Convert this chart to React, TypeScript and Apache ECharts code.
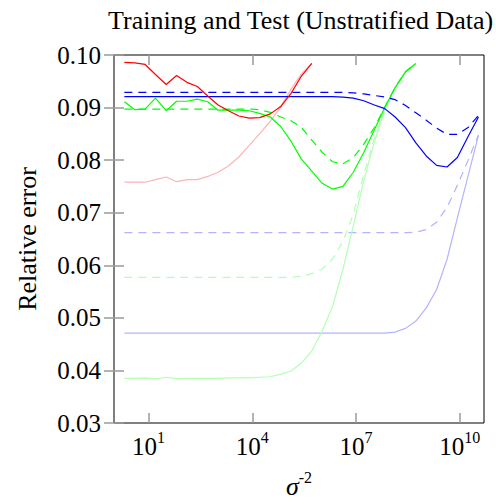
import React, { useEffect, useRef } from 'react';
import * as echarts from 'echarts';

// x positions: log10 of sigma^-2 (sigma^-2 = 2, 4, 8, ... 2^35)
const log10SigmaInvSq = [
  0.30, 0.60, 0.90, 1.20, 1.51, 1.81, 2.11, 2.41, 2.71, 3.01,
  3.31, 3.61, 3.91, 4.21, 4.52, 4.82, 5.12, 5.42, 5.72, 6.02,
  6.32, 6.62, 6.92, 7.22, 7.53, 7.83, 8.13, 8.43, 8.73, 9.03,
  9.33, 9.63, 9.93, 10.24, 10.54,
];

const xTickExponents = [1, 4, 7, 10];
const yTickStep = 0.01;

// bright red, solid
const redSolid = [
  0.0986, 0.0985, 0.0982, 0.0963, 0.0944, 0.0961, 0.0948, 0.0940, 0.0922, 0.0905,
  0.0894, 0.0884, 0.0880, 0.0881, 0.0888, 0.0902, 0.0927, 0.0960, 0.0984,
];
// light red, solid
const redLight = [
  0.0758, 0.0758, 0.0758, 0.0763, 0.0768, 0.0759, 0.0763, 0.0763, 0.0769, 0.0777,
  0.0789, 0.0806, 0.0828, 0.0850, 0.0874, 0.0901, 0.0935, 0.0964, 0.0984,
];
// bright blue, solid
const blueSolid = [
  0.0921, 0.0921, 0.0921, 0.0921, 0.0921, 0.0921, 0.0921, 0.0921, 0.0921, 0.0921,
  0.0921, 0.0921, 0.0921, 0.0921, 0.0921, 0.0921, 0.0921, 0.0921, 0.0921, 0.0921,
  0.0921, 0.0920, 0.0918, 0.0913, 0.0905, 0.0898, 0.0882, 0.0862, 0.0833, 0.0808,
  0.0790, 0.0787, 0.0805, 0.0845, 0.0882,
];
// bright blue, dashed
const blueDashed = [
  0.0929, 0.0929, 0.0929, 0.0929, 0.0929, 0.0929, 0.0929, 0.0929, 0.0929, 0.0929,
  0.0929, 0.0929, 0.0929, 0.0929, 0.0929, 0.0929, 0.0929, 0.0929, 0.0929, 0.0929,
  0.0929, 0.0929, 0.0928, 0.0926, 0.0923, 0.0920, 0.0915, 0.0904, 0.0890, 0.0876,
  0.0861, 0.0849, 0.0849, 0.0862, 0.0885,
];
// bright green, solid
const greenSolid = [
  0.0911, 0.0896, 0.0897, 0.0918, 0.0894, 0.0912, 0.0912, 0.0916, 0.0911, 0.0895,
  0.0895, 0.0895, 0.0894, 0.0889, 0.0882, 0.0864, 0.0836, 0.0802, 0.0779, 0.0756,
  0.0745, 0.0750, 0.0777, 0.0814, 0.0858, 0.0900, 0.0938, 0.0968, 0.0984,
];
// bright green, dashed
const greenDashed = [
  0.0897, 0.0897, 0.0897, 0.0897, 0.0897, 0.0897, 0.0897, 0.0897, 0.0897, 0.0897,
  0.0897, 0.0897, 0.0897, 0.0896, 0.0891, 0.0882, 0.0875, 0.0862, 0.0838, 0.0815,
  0.0797, 0.0793, 0.0805, 0.0830, 0.0862, 0.0901, 0.0938, 0.0968, 0.0984,
];
// light green, dashed
const greenLightDashed = [
  0.0577, 0.0577, 0.0577, 0.0577, 0.0577, 0.0577, 0.0577, 0.0577, 0.0577, 0.0577,
  0.0577, 0.0577, 0.0577, 0.0577, 0.0577, 0.0577, 0.0577, 0.0579, 0.0584, 0.0593,
  0.0612, 0.0645, 0.0697, 0.0772, 0.0842, 0.0897, 0.0938, 0.0968, 0.0984,
];
// light green, solid
const greenLightSolid = [
  0.0385, 0.0385, 0.0386, 0.0384, 0.0387, 0.0384, 0.0385, 0.0385, 0.0385, 0.0385,
  0.0386, 0.0386, 0.0386, 0.0387, 0.0388, 0.0393, 0.0399, 0.0414, 0.0437, 0.0475,
  0.0522, 0.0592, 0.0675, 0.0760, 0.0835, 0.0895, 0.0938, 0.0968, 0.0984,
];
// light blue, dashed
const blueLightDashed = [
  0.0662, 0.0662, 0.0662, 0.0662, 0.0662, 0.0662, 0.0662, 0.0662, 0.0662, 0.0662,
  0.0662, 0.0662, 0.0662, 0.0662, 0.0662, 0.0662, 0.0662, 0.0662, 0.0662, 0.0662,
  0.0662, 0.0662, 0.0662, 0.0662, 0.0662, 0.0662, 0.0662, 0.0662, 0.0663, 0.0668,
  0.0682, 0.0710, 0.0752, 0.0800, 0.0848,
];
// light blue, solid
const blueLightSolid = [
  0.0471, 0.0471, 0.0471, 0.0471, 0.0471, 0.0471, 0.0471, 0.0471, 0.0471, 0.0471,
  0.0471, 0.0471, 0.0471, 0.0471, 0.0471, 0.0471, 0.0471, 0.0471, 0.0471, 0.0471,
  0.0471, 0.0471, 0.0471, 0.0471, 0.0471, 0.0471, 0.0473, 0.0480, 0.0494, 0.0519,
  0.0554, 0.0611, 0.0690, 0.0770, 0.0847,
];

const FONT = '"Liberation Serif", "Times New Roman", serif';
const DASH = [8, 6];

function pairs(values: number[]) {
  return values.map((v, i) => [log10SigmaInvSq[i], v]);
}

function lineSeries(name: string, values: number[], color: string, dashed: boolean) {
  return {
    name,
    type: 'line',
    data: pairs(values),
    showSymbol: false,
    symbol: 'none',
    lineStyle: { color, width: 1.2, type: dashed ? DASH : 'solid' },
    emphasis: { disabled: true },
  };
}

export default function App() {
  const ref = useRef<HTMLDivElement>(null);
  useEffect(() => {
    document.body.style.margin = '0';
    if (!ref.current) return;
    const chart = echarts.init(ref.current, null, { renderer: 'svg' });
    const tickStyle = { color: '#9a9a9a', width: 1.5 };
    const xRich = {
      b: { fontFamily: FONT, fontSize: 25, color: '#000', lineHeight: 30, verticalAlign: 'bottom' },
      s: { fontFamily: FONT, fontSize: 16, color: '#000', lineHeight: 16, verticalAlign: 'top' },
    };
    const option = {
      animation: false,
      title: {
        text: 'Training and Test (Unstratified Data)',
        left: 103,
        top: 2,
        textStyle: { fontFamily: FONT, fontSize: 26, fontWeight: 'normal', color: '#000' },
      },
      grid: {
        left: 114,
        right: 12,
        top: 55,
        bottom: 79,
        show: true,
        borderColor: '#000',
        borderWidth: 1,
        backgroundColor: 'transparent',
        containLabel: false,
      },
      xAxis: [
        {
          type: 'value',
          min: 0,
          max: 10.7,
          position: 'bottom',
          axisLine: { show: false },
          splitLine: { show: false },
          axisTick: { inside: true, length: 10, lineStyle: tickStyle, customValues: xTickExponents },
          axisLabel: {
            customValues: xTickExponents,
            formatter: (v: number) => `{b|10}{s|${v}}`,
            rich: xRich,
            margin: 6,
          },
          name: '{g|σ}{sup|-2}',
          nameLocation: 'middle',
          nameGap: 46,
          nameTextStyle: {
            rich: {
              g: { fontFamily: FONT, fontSize: 26, fontStyle: 'italic', color: '#000', lineHeight: 30, verticalAlign: 'bottom' },
              sup: { fontFamily: FONT, fontSize: 16, color: '#000', lineHeight: 16, verticalAlign: 'top' },
            },
          },
        },
        {
          type: 'value',
          min: 0,
          max: 10.7,
          position: 'top',
          axisLine: { show: false },
          splitLine: { show: false },
          axisTick: { inside: true, length: 10, lineStyle: tickStyle, customValues: xTickExponents },
          axisLabel: { show: false },
        },
      ],
      yAxis: [
        {
          type: 'value',
          min: 0.03,
          max: 0.1,
          interval: yTickStep,
          axisLine: { show: false },
          splitLine: { show: false },
          axisTick: { inside: true, length: 10, lineStyle: tickStyle },
          axisLabel: {
            formatter: (v: number) => v.toFixed(2),
            fontFamily: FONT,
            fontSize: 25,
            color: '#000',
            margin: 13,
          },
          name: 'Relative error',
          nameLocation: 'middle',
          nameRotate: 90,
          nameGap: 74,
          nameTextStyle: { fontFamily: FONT, fontSize: 26, color: '#000' },
        },
        {
          type: 'value',
          min: 0.03,
          max: 0.1,
          interval: yTickStep,
          position: 'right',
          axisLine: { show: false },
          splitLine: { show: false },
          axisTick: { inside: true, length: 10, lineStyle: tickStyle },
          axisLabel: { show: false },
        },
      ],
      series: [
        lineSeries('Train blue (solid)', blueLightSolid, '#b3b3ff', false),
        lineSeries('Train blue (dashed)', blueLightDashed, '#b3b3ff', true),
        lineSeries('Train green (solid)', greenLightSolid, '#b3ffb3', false),
        lineSeries('Train green (dashed)', greenLightDashed, '#b3ffb3', true),
        lineSeries('Train red', redLight, '#ffb3b3', false),
        lineSeries('Test green (dashed)', greenDashed, '#00ff00', true),
        lineSeries('Test green (solid)', greenSolid, '#00ff00', false),
        lineSeries('Test blue (dashed)', blueDashed, '#0000ff', true),
        lineSeries('Test blue (solid)', blueSolid, '#0000ff', false),
        lineSeries('Test red', redSolid, '#ff0000', false),
      ],
    };
    chart.setOption(option as any);
    return () => chart.dispose();
  }, []);
  return <div ref={ref} style={{ width: 496, height: 504, position: 'absolute', left: 0, top: 0 }} />;
}
